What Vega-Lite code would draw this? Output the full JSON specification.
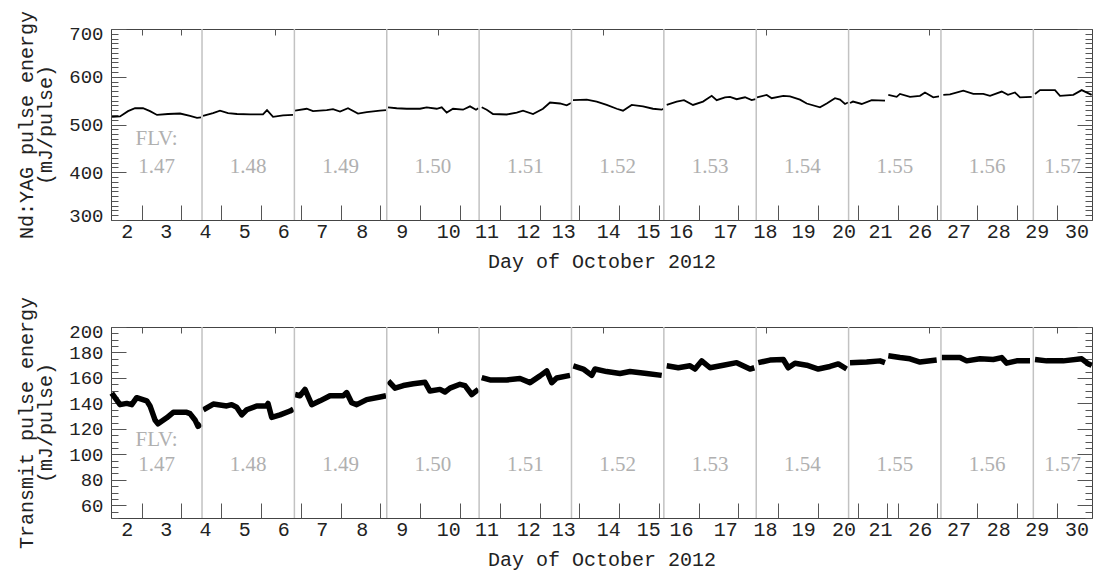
{
  "$schema": "https://vega.github.io/schema/vega-lite/v6.json",
  "padding": {"left": 16, "top": 9, "right": 4, "bottom": 4},
  "background": "white",
  "config": {
    "view": {"stroke": "#444", "strokeWidth": 1},
    "axis": {
      "domain": false,
      "grid": false,
      "labelFont": "Liberation Mono",
      "titleFont": "Liberation Mono",
      "labelFontSize": 20,
      "titleFontSize": 20,
      "titleFontWeight": "normal",
      "labelColor": "#222",
      "titleColor": "#222",
      "tickColor": "#555",
      "tickWidth": 1,
      "labelOverlap": false,
      "labelBound": false
    }
  },
  "datasets": {
    "nd": [
      {"t": 1.754, "e": 516, "run": "1.47"}, {"t": 1.955, "e": 517, "run": "1.47"}, {"t": 2.156, "e": 528, "run": "1.47"}, {"t": 2.332, "e": 534, "run": "1.47"}, {"t": 2.533, "e": 534, "run": "1.47"}, {"t": 2.709, "e": 528, "run": "1.47"}, {"t": 2.885, "e": 520, "run": "1.47"}, {"t": 3.161, "e": 522, "run": "1.47"}, {"t": 3.463, "e": 523, "run": "1.47"}, {"t": 3.714, "e": 518, "run": "1.47"}, {"t": 3.890, "e": 514, "run": "1.47"}, {"t": 3.991, "e": 515, "run": "1.47"},
      {"t": 4.041, "e": 518, "run": "1.48"}, {"t": 4.292, "e": 524, "run": "1.48"}, {"t": 4.468, "e": 529, "run": "1.48"}, {"t": 4.670, "e": 524, "run": "1.48"}, {"t": 4.896, "e": 522, "run": "1.48"}, {"t": 5.223, "e": 521, "run": "1.48"}, {"t": 5.549, "e": 521, "run": "1.48"}, {"t": 5.650, "e": 530, "run": "1.48"}, {"t": 5.801, "e": 516, "run": "1.48"}, {"t": 6.052, "e": 519, "run": "1.48"}, {"t": 6.303, "e": 520, "run": "1.48"},
      {"t": 6.354, "e": 529, "run": "1.49"}, {"t": 6.648, "e": 533, "run": "1.49"}, {"t": 6.806, "e": 528, "run": "1.49"}, {"t": 7.151, "e": 530, "run": "1.49"}, {"t": 7.309, "e": 532, "run": "1.49"}, {"t": 7.485, "e": 527, "run": "1.49"}, {"t": 7.686, "e": 534, "run": "1.49"}, {"t": 7.937, "e": 523, "run": "1.49"}, {"t": 8.156, "e": 526, "run": "1.49"}, {"t": 8.490, "e": 529, "run": "1.49"}, {"t": 8.641, "e": 530, "run": "1.49"},
      {"t": 8.692, "e": 536, "run": "1.50"}, {"t": 8.910, "e": 534, "run": "1.50"}, {"t": 9.162, "e": 533, "run": "1.50"}, {"t": 9.496, "e": 533, "run": "1.50"}, {"t": 9.664, "e": 536, "run": "1.50"}, {"t": 9.916, "e": 533, "run": "1.50"}, {"t": 10.042, "e": 536, "run": "1.50"}, {"t": 10.167, "e": 525, "run": "1.50"}, {"t": 10.326, "e": 533, "run": "1.50"}, {"t": 10.577, "e": 531, "run": "1.50"}, {"t": 10.753, "e": 538, "run": "1.50"}, {"t": 10.904, "e": 531, "run": "1.50"}, {"t": 10.962, "e": 534, "run": "1.50"},
      {"t": 11.047, "e": 536, "run": "1.51"}, {"t": 11.173, "e": 531, "run": "1.51"}, {"t": 11.331, "e": 522, "run": "1.51"}, {"t": 11.675, "e": 521, "run": "1.51"}, {"t": 11.927, "e": 525, "run": "1.51"}, {"t": 12.085, "e": 529, "run": "1.51"}, {"t": 12.337, "e": 522, "run": "1.51"}, {"t": 12.588, "e": 533, "run": "1.51"}, {"t": 12.764, "e": 546, "run": "1.51"}, {"t": 13.015, "e": 544, "run": "1.51"}, {"t": 13.184, "e": 540, "run": "1.51"}, {"t": 13.292, "e": 545, "run": "1.51"},
      {"t": 13.342, "e": 551, "run": "1.52"}, {"t": 13.687, "e": 552, "run": "1.52"}, {"t": 13.938, "e": 548, "run": "1.52"}, {"t": 14.189, "e": 541, "run": "1.52"}, {"t": 14.441, "e": 533, "run": "1.52"}, {"t": 14.599, "e": 529, "run": "1.52"}, {"t": 14.818, "e": 541, "run": "1.52"}, {"t": 15.102, "e": 538, "run": "1.52"}, {"t": 15.353, "e": 533, "run": "1.52"}, {"t": 15.572, "e": 531, "run": "1.52"}, {"t": 15.617, "e": 533, "run": "1.52"},
      {"t": 15.698, "e": 541, "run": "1.53"}, {"t": 15.949, "e": 548, "run": "1.53"}, {"t": 16.132, "e": 551, "run": "1.53"}, {"t": 16.359, "e": 541, "run": "1.53"}, {"t": 16.610, "e": 548, "run": "1.53"}, {"t": 16.829, "e": 560, "run": "1.53"}, {"t": 16.954, "e": 551, "run": "1.53"}, {"t": 17.163, "e": 557, "run": "1.53"}, {"t": 17.289, "e": 558, "run": "1.53"}, {"t": 17.457, "e": 553, "run": "1.53"}, {"t": 17.666, "e": 557, "run": "1.53"}, {"t": 17.834, "e": 551, "run": "1.53"}, {"t": 17.930, "e": 553, "run": "1.53"},
      {"t": 17.968, "e": 557, "run": "1.54"}, {"t": 18.211, "e": 562, "run": "1.54"}, {"t": 18.337, "e": 555, "run": "1.54"}, {"t": 18.629, "e": 560, "run": "1.54"}, {"t": 18.797, "e": 559, "run": "1.54"}, {"t": 19.048, "e": 552, "run": "1.54"}, {"t": 19.217, "e": 544, "run": "1.54"}, {"t": 19.551, "e": 536, "run": "1.54"}, {"t": 19.720, "e": 544, "run": "1.54"}, {"t": 19.928, "e": 555, "run": "1.54"}, {"t": 20.054, "e": 552, "run": "1.54"}, {"t": 20.180, "e": 543, "run": "1.54"}, {"t": 20.255, "e": 546, "run": "1.54"},
      {"t": 20.305, "e": 545, "run": "1.55a"}, {"t": 20.381, "e": 548, "run": "1.55a"}, {"t": 20.599, "e": 543, "run": "1.55a"}, {"t": 20.851, "e": 551, "run": "1.55a"}, {"t": 21.185, "e": 550, "run": "1.55a"},
      {"t": 21.268, "e": 562, "run": "1.55b"}, {"t": 21.479, "e": 558, "run": "1.55b"}, {"t": 21.562, "e": 564, "run": "1.55b"}, {"t": 21.814, "e": 558, "run": "1.55b"}, {"t": 22.065, "e": 560, "run": "1.55b"}, {"t": 22.191, "e": 567, "run": "1.55b"}, {"t": 22.399, "e": 557, "run": "1.55b"}, {"t": 22.543, "e": 559, "run": "1.55b"},
      {"t": 22.651, "e": 562, "run": "1.56"}, {"t": 22.819, "e": 563, "run": "1.56"}, {"t": 23.154, "e": 571, "run": "1.56"}, {"t": 23.405, "e": 564, "run": "1.56"}, {"t": 23.656, "e": 564, "run": "1.56"}, {"t": 23.825, "e": 560, "run": "1.56"}, {"t": 24.119, "e": 569, "run": "1.56"}, {"t": 24.277, "e": 562, "run": "1.56"}, {"t": 24.453, "e": 567, "run": "1.56"}, {"t": 24.579, "e": 557, "run": "1.56"}, {"t": 24.873, "e": 558, "run": "1.56"},
      {"t": 24.956, "e": 564, "run": "1.57"}, {"t": 25.082, "e": 572, "run": "1.57"}, {"t": 25.459, "e": 572, "run": "1.57"}, {"t": 25.584, "e": 560, "run": "1.57"}, {"t": 25.919, "e": 562, "run": "1.57"}, {"t": 26.130, "e": 572, "run": "1.57"}, {"t": 26.381, "e": 562, "run": "1.57"}
    ],
    "tx": [
      {"t": 1.746, "e": 148, "run": "1.47"}, {"t": 1.955, "e": 139, "run": "1.47"}, {"t": 2.123, "e": 140, "run": "1.47"}, {"t": 2.249, "e": 139, "run": "1.47"}, {"t": 2.374, "e": 144.5, "run": "1.47"}, {"t": 2.626, "e": 142, "run": "1.47"}, {"t": 2.709, "e": 138, "run": "1.47"}, {"t": 2.834, "e": 127, "run": "1.47"}, {"t": 2.910, "e": 124, "run": "1.47"}, {"t": 3.128, "e": 128.7, "run": "1.47"}, {"t": 3.294, "e": 133, "run": "1.47"}, {"t": 3.631, "e": 133, "run": "1.47"}, {"t": 3.714, "e": 132, "run": "1.47"}, {"t": 3.840, "e": 127, "run": "1.47"}, {"t": 3.915, "e": 122, "run": "1.47"}, {"t": 3.991, "e": 124, "run": "1.47"},
      {"t": 4.049, "e": 135, "run": "1.48"}, {"t": 4.300, "e": 139.5, "run": "1.48"}, {"t": 4.637, "e": 138, "run": "1.48"}, {"t": 4.762, "e": 139, "run": "1.48"}, {"t": 4.888, "e": 137, "run": "1.48"}, {"t": 5.014, "e": 131, "run": "1.48"}, {"t": 5.140, "e": 135, "run": "1.48"}, {"t": 5.391, "e": 138, "run": "1.48"}, {"t": 5.642, "e": 138, "run": "1.48"}, {"t": 5.675, "e": 140, "run": "1.48"}, {"t": 5.768, "e": 129, "run": "1.48"}, {"t": 5.977, "e": 131, "run": "1.48"}, {"t": 6.228, "e": 134, "run": "1.48"}, {"t": 6.311, "e": 135.5, "run": "1.48"},
      {"t": 6.354, "e": 147, "run": "1.49"}, {"t": 6.479, "e": 146, "run": "1.49"}, {"t": 6.605, "e": 151, "run": "1.49"}, {"t": 6.774, "e": 139, "run": "1.49"}, {"t": 6.982, "e": 142, "run": "1.49"}, {"t": 7.234, "e": 146, "run": "1.49"}, {"t": 7.568, "e": 146, "run": "1.49"}, {"t": 7.653, "e": 148.5, "run": "1.49"}, {"t": 7.779, "e": 140.5, "run": "1.49"}, {"t": 7.905, "e": 139, "run": "1.49"}, {"t": 8.156, "e": 143, "run": "1.49"}, {"t": 8.490, "e": 145, "run": "1.49"}, {"t": 8.641, "e": 146, "run": "1.49"},
      {"t": 8.699, "e": 157.6, "run": "1.50"}, {"t": 8.868, "e": 152, "run": "1.50"}, {"t": 9.076, "e": 154, "run": "1.50"}, {"t": 9.328, "e": 155.4, "run": "1.50"}, {"t": 9.622, "e": 156.6, "run": "1.50"}, {"t": 9.747, "e": 149.7, "run": "1.50"}, {"t": 9.999, "e": 151, "run": "1.50"}, {"t": 10.124, "e": 149, "run": "1.50"}, {"t": 10.250, "e": 152, "run": "1.50"}, {"t": 10.501, "e": 155, "run": "1.50"}, {"t": 10.627, "e": 154, "run": "1.50"}, {"t": 10.796, "e": 147, "run": "1.50"}, {"t": 10.962, "e": 151, "run": "1.50"},
      {"t": 11.047, "e": 160.3, "run": "1.51"}, {"t": 11.256, "e": 158.4, "run": "1.51"}, {"t": 11.675, "e": 158.4, "run": "1.51"}, {"t": 12.010, "e": 159.5, "run": "1.51"}, {"t": 12.261, "e": 156.3, "run": "1.51"}, {"t": 12.513, "e": 161.6, "run": "1.51"}, {"t": 12.681, "e": 165.5, "run": "1.51"}, {"t": 12.807, "e": 156.3, "run": "1.51"}, {"t": 12.932, "e": 160, "run": "1.51"}, {"t": 13.267, "e": 162, "run": "1.51"},
      {"t": 13.350, "e": 169.5, "run": "1.52"}, {"t": 13.601, "e": 167, "run": "1.52"}, {"t": 13.812, "e": 162, "run": "1.52"}, {"t": 13.895, "e": 167, "run": "1.52"}, {"t": 14.189, "e": 165, "run": "1.52"}, {"t": 14.524, "e": 163.5, "run": "1.52"}, {"t": 14.775, "e": 165, "run": "1.52"}, {"t": 15.195, "e": 163.5, "run": "1.52"}, {"t": 15.572, "e": 162, "run": "1.52"},
      {"t": 15.698, "e": 169.5, "run": "1.53"}, {"t": 15.989, "e": 168, "run": "1.53"}, {"t": 16.283, "e": 169.5, "run": "1.53"}, {"t": 16.409, "e": 167, "run": "1.53"}, {"t": 16.577, "e": 173.4, "run": "1.53"}, {"t": 16.786, "e": 168, "run": "1.53"}, {"t": 17.120, "e": 170, "run": "1.53"}, {"t": 17.457, "e": 172, "run": "1.53"}, {"t": 17.791, "e": 167, "run": "1.53"}, {"t": 17.900, "e": 168, "run": "1.53"},
      {"t": 18.000, "e": 172, "run": "1.54"}, {"t": 18.294, "e": 174, "run": "1.54"}, {"t": 18.629, "e": 174.5, "run": "1.54"}, {"t": 18.754, "e": 168, "run": "1.54"}, {"t": 18.923, "e": 171.5, "run": "1.54"}, {"t": 19.217, "e": 170, "run": "1.54"}, {"t": 19.508, "e": 167, "run": "1.54"}, {"t": 19.802, "e": 169, "run": "1.54"}, {"t": 20.011, "e": 171, "run": "1.54"}, {"t": 20.222, "e": 167, "run": "1.54"},
      {"t": 20.305, "e": 172, "run": "1.55a"}, {"t": 20.725, "e": 172.5, "run": "1.55a"}, {"t": 21.059, "e": 173.4, "run": "1.55a"}, {"t": 21.185, "e": 172, "run": "1.55a"},
      {"t": 21.268, "e": 177.4, "run": "1.55b"}, {"t": 21.562, "e": 176, "run": "1.55b"}, {"t": 21.814, "e": 175, "run": "1.55b"}, {"t": 22.065, "e": 172.5, "run": "1.55b"}, {"t": 22.485, "e": 174, "run": "1.55b"},
      {"t": 22.610, "e": 176, "run": "1.56"}, {"t": 23.070, "e": 176, "run": "1.56"}, {"t": 23.239, "e": 173.4, "run": "1.56"}, {"t": 23.573, "e": 175, "run": "1.56"}, {"t": 23.908, "e": 174.5, "run": "1.56"}, {"t": 24.119, "e": 176, "run": "1.56"}, {"t": 24.244, "e": 171.6, "run": "1.56"}, {"t": 24.496, "e": 173.4, "run": "1.56"}, {"t": 24.830, "e": 173.4, "run": "1.56"},
      {"t": 24.956, "e": 174.5, "run": "1.57"}, {"t": 25.250, "e": 173.4, "run": "1.57"}, {"t": 25.667, "e": 173.4, "run": "1.57"}, {"t": 26.130, "e": 175, "run": "1.57"}, {"t": 26.296, "e": 171, "run": "1.57"}, {"t": 26.381, "e": 170, "run": "1.57"}
    ],
    "flv": [
      {"t": 2.872, "flv": "1.47"}, {"t": 5.177, "flv": "1.48"}, {"t": 7.499, "flv": "1.49"}, {"t": 9.821, "flv": "1.50"}, {"t": 12.143, "flv": "1.51"}, {"t": 14.465, "flv": "1.52"}, {"t": 16.787, "flv": "1.53"}, {"t": 19.109, "flv": "1.54"}, {"t": 21.431, "flv": "1.55"}, {"t": 23.753, "flv": "1.56"}, {"t": 25.65, "flv": "1.57"}
    ],
    "flvhead": [{"t": 2.872, "text": "FLV:"}],
    "bounds": [
      {"t": 4.016}, {"t": 6.338}, {"t": 8.660}, {"t": 10.982}, {"t": 13.304}, {"t": 15.626}, {"t": 17.948}, {"t": 20.270}, {"t": 22.592}, {"t": 24.914}
    ]
  },
  "vconcat": [
    {
      "width": 981,
      "height": 191,
      "resolve": {"axis": {"x": "independent", "y": "independent"}},
      "layer": [
        {
          "data": {"name": "nd"},
          "mark": {"type": "line", "color": "#000", "strokeWidth": 1.8},
          "encoding": {
            "x": {"field": "t", "type": "quantitative",
              "scale": {"domain": [1.728, 26.389], "nice": false, "zero": false},
              "axis": {"orient": "bottom", "ticks": false, "labelPadding": 1, "labelFlush": false,
                "values": [2.123, 3.103, 4.091, 5.079, 6.06, 7.025, 8.03, 9.036, 10.207, 11.17, 12.22, 13.1, 14.23, 15.235, 16.06, 17.17, 18.17, 19.13, 20.14, 21.06, 22.06, 23.03, 24.03, 25.0, 26.0],
                "labelExpr": "datum.value < 21.5 ? '' + round(datum.value) : '' + (round(datum.value) + 4)",
                "title": "Day of October 2012", "titlePadding": 10}},
            "y": {"field": "e", "type": "quantitative",
              "scale": {"domain": [300, 700], "nice": false, "zero": false},
              "axis": {"orient": "left", "values": [300, 400, 500, 600, 700], "tickSize": -15, "labelPadding": 23, "labelFontSize": 19, "labelFlush": true, "labelFlushOffset": 5,
                "title": ["Nd:YAG pulse energy", "(mJ/pulse)"], "titlePadding": 13, "titleLineHeight": 19}},
            "detail": {"field": "run"}
          }
        },
        {
          "data": {"name": "bounds"},
          "mark": {"type": "rule", "color": "#c2c2c2", "strokeWidth": 1.5},
          "encoding": {
            "x": {"field": "t", "type": "quantitative",
              "axis": {"orient": "bottom", "labels": false, "tickSize": -15, "title": null,
                "values": [2.5, 3.5, 4.5, 5.5, 6.5, 7.5, 8.5, 9.5, 10.5, 11.5, 12.5, 13.5, 14.5, 15.5, 16.5, 17.5, 18.5, 19.5, 20.5, 21.5, 22.5, 23.5, 24.5, 25.5]}},
            "y": {"datum": 300, "type": "quantitative",
              "axis": {"orient": "right", "labels": false, "tickSize": -15, "title": null, "values": [300, 400, 500, 600, 700]}},
            "y2": {"datum": 700}
          }
        },
        {
          "data": {"name": "flv"},
          "mark": {"type": "text", "font": "Liberation Serif", "fontSize": 21, "color": "#b0b0b0"},
          "encoding": {
            "x": {"field": "t", "type": "quantitative",
              "axis": {"orient": "top", "labels": false, "tickSize": -6, "title": null,
                "values": [2.5, 3.49, 5.86, 9.96, 14.09, 18.19, 22.3]}},
            "y": {"datum": 410, "type": "quantitative",
              "axis": {"orient": "left", "labels": false, "tickSize": -7, "title": null,
                "values": [300, 310, 320, 330, 340, 350, 360, 370, 380, 390, 400, 410, 420, 430, 440, 450, 460, 470, 480, 490, 500, 510, 520, 530, 540, 550, 560, 570, 580, 590, 600, 610, 620, 630, 640, 650, 660, 670, 680, 690, 700]}},
            "text": {"field": "flv"}
          }
        },
        {
          "data": {"name": "flvhead"},
          "mark": {"type": "text", "font": "Liberation Serif", "fontSize": 21, "color": "#b0b0b0"},
          "encoding": {
            "x": {"field": "t", "type": "quantitative", "axis": null},
            "y": {"datum": 469, "type": "quantitative",
              "axis": {"orient": "right", "labels": false, "tickSize": -7, "title": null,
                "values": [300, 310, 320, 330, 340, 350, 360, 370, 380, 390, 400, 410, 420, 430, 440, 450, 460, 470, 480, 490, 500, 510, 520, 530, 540, 550, 560, 570, 580, 590, 600, 610, 620, 630, 640, 650, 660, 670, 680, 690, 700]}},
            "text": {"field": "text"}
          }
        }
      ]
    },
    {
      "width": 981,
      "height": 191,
      "resolve": {"axis": {"x": "independent", "y": "independent"}},
      "layer": [
        {
          "data": {"name": "tx"},
          "mark": {"type": "line", "color": "#000", "strokeWidth": 5.5, "strokeJoin": "round"},
          "encoding": {
            "x": {"field": "t", "type": "quantitative",
              "scale": {"domain": [1.728, 26.389], "nice": false, "zero": false},
              "axis": {"orient": "bottom", "ticks": false, "labelPadding": 1, "labelFlush": false,
                "values": [2.123, 3.103, 4.091, 5.079, 6.06, 7.025, 8.03, 9.036, 10.207, 11.17, 12.22, 13.1, 14.23, 15.235, 16.06, 17.17, 18.17, 19.13, 20.14, 21.06, 22.06, 23.03, 24.03, 25.0, 26.0],
                "labelExpr": "datum.value < 21.5 ? '' + round(datum.value) : '' + (round(datum.value) + 4)",
                "title": "Day of October 2012", "titlePadding": 10}},
            "y": {"field": "e", "type": "quantitative",
              "scale": {"domain": [50, 200], "nice": false, "zero": false},
              "axis": {"orient": "left", "values": [60, 80, 100, 120, 140, 160, 180, 200], "tickSize": -15, "labelPadding": 23, "labelFontSize": 19, "labelFlush": true, "labelFlushOffset": 5,
                "title": ["Transmit pulse energy", "(mJ/pulse)"], "titlePadding": 13, "titleLineHeight": 19}},
            "detail": {"field": "run"}
          }
        },
        {
          "data": {"name": "bounds"},
          "mark": {"type": "rule", "color": "#c2c2c2", "strokeWidth": 1.5},
          "encoding": {
            "x": {"field": "t", "type": "quantitative",
              "axis": {"orient": "bottom", "labels": false, "tickSize": -15, "title": null,
                "values": [2.5, 3.5, 4.5, 5.5, 6.5, 7.5, 8.5, 9.5, 10.5, 11.5, 12.5, 13.5, 14.5, 15.5, 16.5, 17.5, 18.5, 19.5, 20.5, 21.23, 21.5, 22.5, 23.5, 24.5, 25.5]}},
            "y": {"datum": 50, "type": "quantitative",
              "axis": {"orient": "right", "labels": false, "tickSize": -15, "title": null, "values": [60, 80, 100, 120, 140, 160, 180, 200]}},
            "y2": {"datum": 200}
          }
        },
        {
          "data": {"name": "flv"},
          "mark": {"type": "text", "font": "Liberation Serif", "fontSize": 21, "color": "#b0b0b0"},
          "encoding": {
            "x": {"field": "t", "type": "quantitative",
              "axis": {"orient": "top", "labels": false, "tickSize": -6, "title": null,
                "values": [2.5, 3.49, 5.86, 9.96, 14.09, 18.19, 22.3, 25.5]}},
            "y": {"datum": 92, "type": "quantitative",
              "axis": {"orient": "left", "labels": false, "tickSize": -7, "title": null,
                "values": [50, 55, 60, 65, 70, 75, 80, 85, 90, 95, 100, 105, 110, 115, 120, 125, 130, 135, 140, 145, 150, 155, 160, 165, 170, 175, 180, 185, 190, 195, 200]}},
            "text": {"field": "flv"}
          }
        },
        {
          "data": {"name": "flvhead"},
          "mark": {"type": "text", "font": "Liberation Serif", "fontSize": 21, "color": "#b0b0b0"},
          "encoding": {
            "x": {"field": "t", "type": "quantitative", "axis": null},
            "y": {"datum": 111, "type": "quantitative",
              "axis": {"orient": "right", "labels": false, "tickSize": -7, "title": null,
                "values": [50, 55, 60, 65, 70, 75, 80, 85, 90, 95, 100, 105, 110, 115, 120, 125, 130, 135, 140, 145, 150, 155, 160, 165, 170, 175, 180, 185, 190, 195, 200]}},
            "text": {"field": "text"}
          }
        }
      ]
    }
  ],
  "bounds": "flush",
  "spacing": 107
}
